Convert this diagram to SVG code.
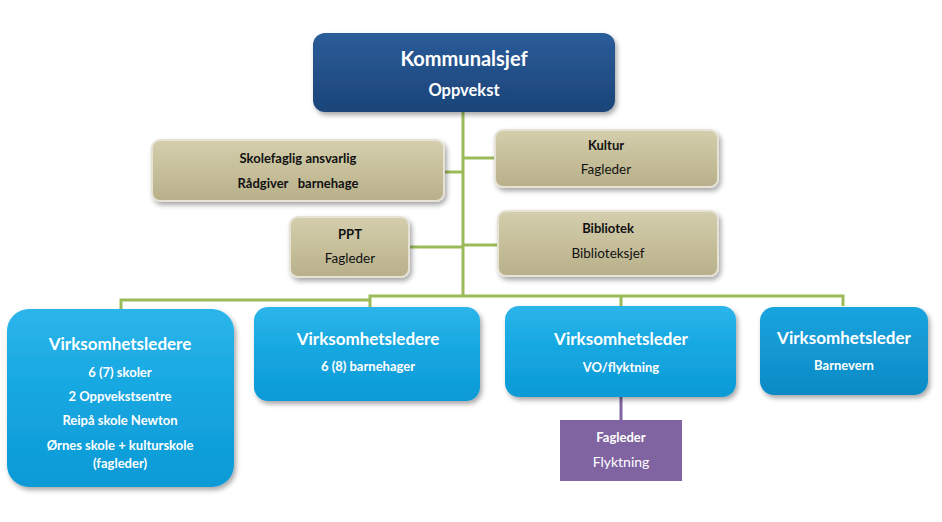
<svg xmlns="http://www.w3.org/2000/svg" width="942" height="522" viewBox="0 0 942 522">
<defs>
<linearGradient id="gTop" x1="0" y1="0" x2="0" y2="1"><stop offset="0" stop-color="#2B5C99"/><stop offset="1" stop-color="#1B4478"/></linearGradient>
<linearGradient id="gTan" x1="0" y1="0" x2="0" y2="1"><stop offset="0" stop-color="#D4CEAE"/><stop offset="0.5" stop-color="#C6BF9A"/><stop offset="1" stop-color="#B7B08A"/></linearGradient>
<linearGradient id="gCyan" x1="0" y1="0" x2="0" y2="1"><stop offset="0" stop-color="#2CB5EA"/><stop offset="0.5" stop-color="#14A6E0"/><stop offset="1" stop-color="#0E9AD6"/></linearGradient>
<linearGradient id="gCyan2" x1="0" y1="0" x2="0" y2="1"><stop offset="0" stop-color="#1AA4DE"/><stop offset="1" stop-color="#0C8AC6"/></linearGradient>
<filter id="sh" x="-10%" y="-10%" width="125%" height="130%"><feDropShadow dx="2" dy="3" stdDeviation="2.5" flood-color="#000" flood-opacity="0.35"/></filter>
</defs>
<style>
.t{font-family:Lato,"Open Sans","Liberation Sans",sans-serif;text-anchor:middle}
.w{fill:#fff}
.k{fill:#111}
.b{font-weight:bold}
.pre{white-space:pre}
.line{stroke:#9BBB59;stroke-width:3;fill:none}
.tan{fill:url(#gTan);stroke:#E6E3D6;stroke-width:2;filter:url(#sh)}
.cy{fill:url(#gCyan);filter:url(#sh)}
</style>
<rect width="942" height="522" fill="#fff"/>
<g id="connectors">
<path class="line" d="M463 112 V296 M444 172 H463 M463 158 H495 M409 247 H463 M463 245 H498"/>
<path class="line" d="M121 309 V300 H370 V296 H843 V306 M370 296 V308 M621 296 V306"/>
<path d="M621 397 V420" stroke="#8064A2" stroke-width="3" fill="none"/>
</g>
<g id="kommunalsjef">
<rect x="313" y="33" width="302" height="79" rx="12" fill="url(#gTop)" filter="url(#sh)"/>
<text class="t w b" x="464" y="66" font-size="20">Kommunalsjef</text>
<text class="t w b" x="464" y="96" font-size="16.5">Oppvekst</text>
</g>
<g id="skolefaglig">
<rect class="tan" x="152" y="140" width="292" height="61" rx="8"/>
<text class="t k b" x="298" y="163" font-size="13">Skolefaglig ansvarlig</text>
<text class="t k b pre" x="298" y="188" font-size="13" xml:space="preserve">Rådgiver   barnehage</text>
</g>
<g id="kultur">
<rect class="tan" x="495" y="130" width="223" height="57" rx="8"/>
<text class="t k b" x="606" y="150" font-size="13">Kultur</text>
<text class="t k" x="606" y="174" font-size="13.5">Fagleder</text>
</g>
<g id="ppt">
<rect class="tan" x="290" y="217" width="119" height="60" rx="8"/>
<text class="t k b" x="350" y="239" font-size="13">PPT</text>
<text class="t k" x="350" y="263" font-size="13.5">Fagleder</text>
</g>
<g id="bibliotek">
<rect class="tan" x="498" y="211" width="220" height="65" rx="8"/>
<text class="t k b" x="608" y="233" font-size="13">Bibliotek</text>
<text class="t k" x="608" y="258" font-size="13.5">Biblioteksjef</text>
</g>
<g id="skoler">
<rect class="cy" x="7" y="309" width="227" height="178" rx="22"/>
<text class="t w b" x="120" y="350" font-size="17">Virksomhetsledere</text>
<text class="t w b" x="120" y="377" font-size="13">6 (7) skoler</text>
<text class="t w b" x="120" y="401" font-size="13">2 Oppvekstsentre</text>
<text class="t w b" x="120" y="425" font-size="13">Reipå skole Newton</text>
<text class="t w b" x="120" y="450" font-size="13">Ørnes skole + kulturskole</text>
<text class="t w b" x="120" y="468" font-size="13">(fagleder)</text>
</g>
<g id="barnehager">
<rect class="cy" x="254" y="307" width="226" height="94" rx="14"/>
<text class="t w b" x="368" y="345" font-size="17">Virksomhetsledere</text>
<text class="t w b" x="368" y="371" font-size="13">6 (8) barnehager</text>
</g>
<g id="vo">
<rect class="cy" x="505" y="306" width="231" height="91" rx="14"/>
<text class="t w b" x="621" y="345" font-size="17">Virksomhetsleder</text>
<text class="t w b" x="621" y="372" font-size="13">VO/flyktning</text>
</g>
<g id="barnevern">
<rect x="760" y="307" width="168" height="88" rx="14" fill="url(#gCyan2)" filter="url(#sh)"/>
<text class="t w b" x="844" y="344" font-size="17">Virksomhetsleder</text>
<text class="t w b" x="844" y="370" font-size="13">Barnevern</text>
</g>
<g id="fagleder-flyktning">
<rect x="560" y="420" width="122" height="61" fill="#8064A2"/>
<text class="t w b" x="621" y="442" font-size="13">Fagleder</text>
<text class="t w" x="621" y="467" font-size="14">Flyktning</text>
</g>
</svg>
